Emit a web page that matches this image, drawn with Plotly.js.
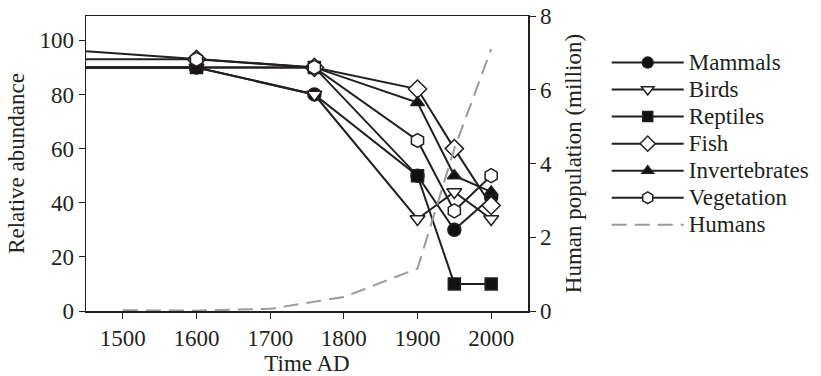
<!DOCTYPE html>
<html>
<head>
<meta charset="utf-8">
<script src="https://cdn.plot.ly/plotly-3.0.1.min.js"></script>
<style>html,body{margin:0;padding:0;background:#fff;}#chart{width:821px;height:376px;}</style>
</head>
<body>
<div id="chart"></div>
<script>
// Years for species series (first entry is the left edge of the plot)
var years = [1450, 1600, 1760, 1900, 1950, 2000];
var mammals       = [90, 90, 80, 50, 30, 42];
var birds         = [90, 90, 80, 34, 44, 34];
var reptiles      = [90, 90, 90, 50, 10, 10];
var fish          = [93, 93, 90, 82, 60, 39];
var invertebrates = [90, 90, 90, 77, 50, 44];
var vegetation    = [96, 93, 90, 63, 37, 50];

// Human population (million)
var humanYears = [1500, 1600, 1700, 1800, 1900, 1950, 2000];
var humans     = [0.02, 0.01, 0.06, 0.38, 1.15, 4.4, 7.1];

var seriesNames = ["Mammals", "Birds", "Reptiles", "Fish", "Invertebrates", "Vegetation"];
var seriesData = [mammals, birds, reptiles, fish, invertebrates, vegetation];
var symbols = ["circle", "triangle-down", "square", "diamond", "triangle-up", "hexagon"];
var fills = ["#111111", "#ffffff", "#111111", "#ffffff", "#111111", "#ffffff"];
var sizes = [13, 13, 12, 14, 12, 14];

var FONT = "Liberation Serif, Times New Roman, serif";
var INK = "#231f20";
var FS = 23;
function legendLabel(s) { return '<span style="font-size:' + FS + 'px">' + s + '</span>'; }

var traces = seriesNames.map(function (name, i) {
  var sz = years.map(function (_, j) { return j === 0 ? 0 : sizes[i]; });
  return {
    x: years, y: seriesData[i], name: legendLabel(name), type: "scatter", mode: "lines+markers",
    line: {color: INK, width: 2},
    marker: {symbol: symbols[i], size: sz, color: fills[i], opacity: 1, line: {color: INK, width: 1.5}}
  };
});
traces.push({
  x: humanYears, y: humans, name: legendLabel("Humans"), yaxis: "y2", type: "scatter", mode: "lines",
  line: {color: "#9a9a9a", width: 2, dash: "15px,8px"}
});

var layout = {
  width: 821, height: 376,
  margin: {l: 86, r: 293, t: 16, b: 65},
  paper_bgcolor: "#fff", plot_bgcolor: "#fff",
  font: {family: FONT, size: FS, color: INK},
  showlegend: true,
  legend: {xref: "container", yref: "container", x: 0.739, xanchor: "left", y: 0.883, yanchor: "top",
           itemwidth: 72, font: {family: FONT, size: 18.5, color: INK}, tracegroupgap: 0,
           bgcolor: "rgba(0,0,0,0)"},
  xaxis: {range: [1450, 2050], tickmode: "linear", tick0: 1500, dtick: 100, automargin: false,
          showline: true, linecolor: INK, linewidth: 1.5, mirror: true,
          ticks: "outside", ticklen: 6, tickcolor: INK, showgrid: false, zeroline: false,
          tickfont: {family: FONT, size: FS, color: INK},
          title: {text: "Time AD", font: {family: FONT, size: FS, color: INK}, standoff: 4}},
  yaxis: {range: [0, 109], tickmode: "linear", tick0: 0, dtick: 20, automargin: false,
          showline: true, linecolor: INK, linewidth: 1.5,
          ticks: "outside", ticklen: 6, tickcolor: INK, showgrid: false, zeroline: false,
          tickfont: {family: FONT, size: FS, color: INK},
          title: {text: "Relative abundance", font: {family: FONT, size: FS, color: INK}, standoff: 8}},
  yaxis2: {range: [0, 8], tickmode: "linear", tick0: 0, dtick: 2, overlaying: "y", side: "right", automargin: false,
           showline: true, linecolor: INK, linewidth: 1.5,
           ticks: "outside", ticklen: 6, tickcolor: INK, showgrid: false, zeroline: false,
           tickfont: {family: FONT, size: FS, color: INK},
           title: {text: "Human population (million)", font: {family: FONT, size: FS, color: INK}, standoff: 14}}
};

Plotly.newPlot("chart", traces, layout, {staticPlot: true, displayModeBar: false});
</script>
</body>
</html>
